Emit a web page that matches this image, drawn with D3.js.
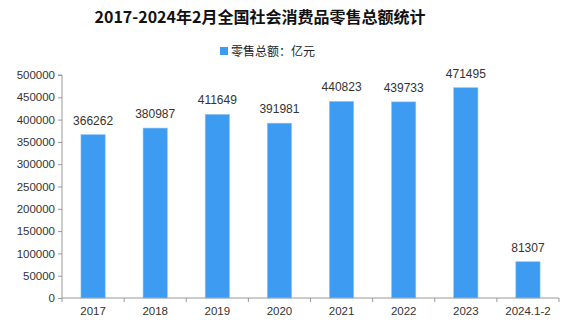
<!DOCTYPE html>
<html><head><meta charset="utf-8">
<script src="https://cdn.jsdelivr.net/npm/d3@7"></script>
<style>body{margin:0;background:#fff}svg{display:block}</style>
</head><body>
<svg id="c" width="588" height="324"></svg>
<script>
const categories = ["2017","2018","2019","2020","2021","2022","2023","2024.1-2"];
const values = [366262,380987,411649,391981,440823,439733,471495,81307];
const yTicks = [0,50000,100000,150000,200000,250000,300000,350000,400000,450000,500000];
const title = "2017-2024年2月全国社会消费品零售总额统计";
const legendLabel = "零售总额：亿元";

const svg = d3.select("#c");
const m = {l:62, r:29, t:75, b:26};
const W = 588, H = 324;
const x = d3.scaleBand().domain(categories).range([m.l, W - m.r]).paddingInner(0.61).paddingOuter(0.305);
const y = d3.scaleLinear().domain([0,500000]).range([298, 75]);
const font = "'Liberation Sans','DejaVu Sans',sans-serif";
const cjk = "'Noto Sans CJK SC',sans-serif";

svg.append("text").attr("x", 260).attr("y", 23).attr("text-anchor","middle")
  .attr("font-family", cjk).attr("font-weight","bold").attr("font-size",16).attr("fill","#111").text(title);

const lg = svg.append("g");
lg.append("rect").attr("x",220).attr("y",47).attr("width",8).attr("height",8).attr("fill","#3d9bf2");
lg.append("text").attr("x",231).attr("y",55.5).attr("font-family",cjk).attr("font-size",12).attr("fill","#222").text(legendLabel);

svg.selectAll("rect.bar").data(values).join("rect").attr("class","bar")
  .attr("x",(d,i)=>x(categories[i])).attr("width",x.bandwidth())
  .attr("y",d=>y(d)).attr("height",d=>y(0)-y(d))
  .attr("fill","#3d9bf2").attr("stroke","#8cc6f7").attr("stroke-width",0.6);

svg.selectAll("text.val").data(values).join("text").attr("class","val")
  .attr("x",(d,i)=>x(categories[i])+x.bandwidth()/2).attr("y",d=>y(d)-10)
  .attr("text-anchor","middle").attr("font-family",font).attr("font-size",12).attr("fill","#333").text(d=>d);

// y axis
const ya = svg.append("g").attr("transform",`translate(${m.l},0)`)
  .call(d3.axisLeft(y).tickValues(yTicks).tickSize(4).tickPadding(3).tickFormat(d3.format("d")));
ya.select(".domain").attr("stroke","#999").attr("d",`M-4,${y(500000)}H0V${y(0)}`);
ya.selectAll(".tick line").attr("stroke","#999");
ya.selectAll(".tick text").attr("font-family",font).attr("font-size",11.5).attr("fill","#333");

// x axis
const xa = svg.append("g").attr("transform",`translate(0,${y(0)})`)
  .call(d3.axisBottom(x).tickSize(0).tickPadding(9));
xa.select(".domain").attr("stroke","#999").attr("d",`M${m.l},0H${W-m.r}`);
xa.selectAll(".tick text").attr("font-family",font).attr("font-size",11.5).attr("fill","#333");
const step = x.step();
const bounds = d3.range(categories.length+1).map(i=>m.l + i*step);
xa.selectAll("line.tk").data(bounds).join("line").attr("class","tk")
  .attr("x1",d=>d).attr("x2",d=>d).attr("y1",0).attr("y2",4).attr("stroke","#999");
</script>
</body></html>
